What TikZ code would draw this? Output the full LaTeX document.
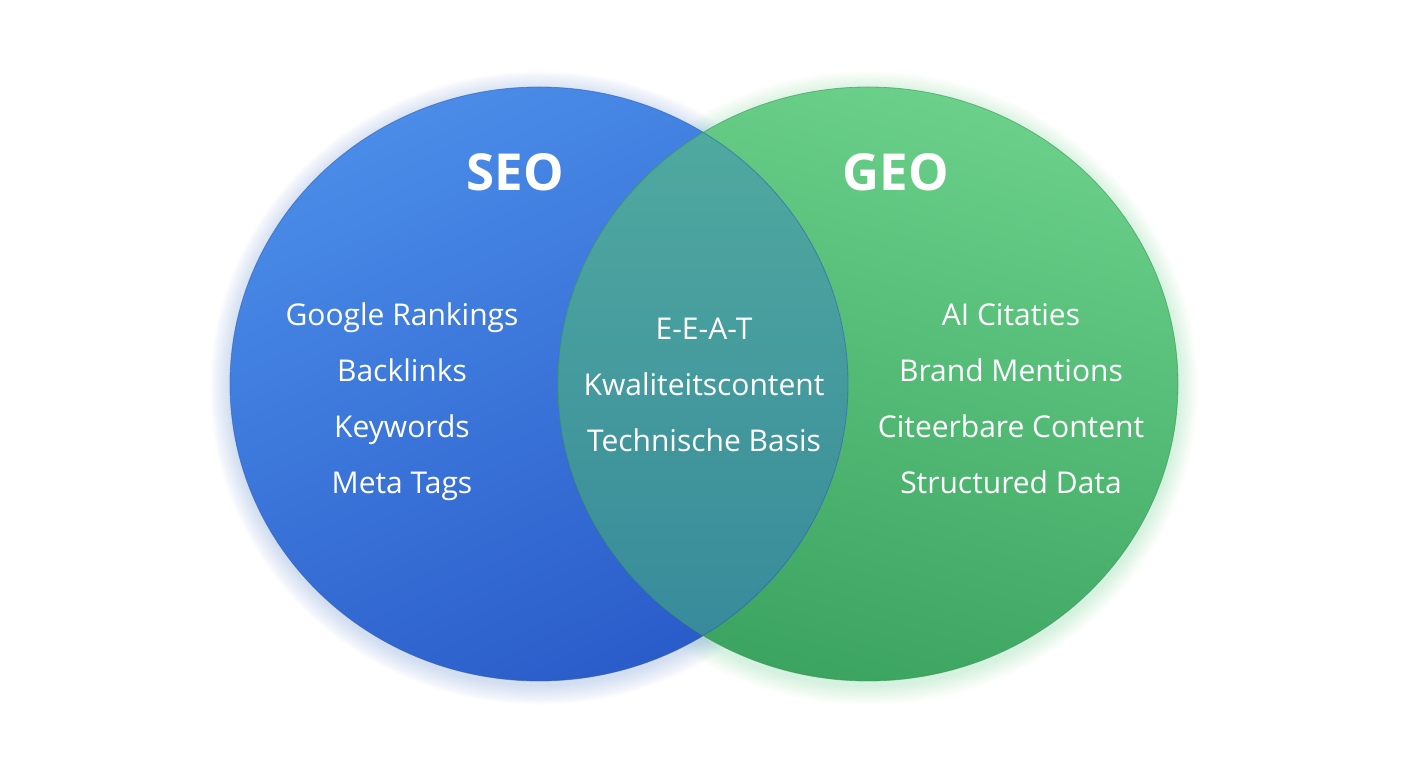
\documentclass[tikz,border=0pt]{standalone}
\usepackage{fontspec}
\setmainfont{Open Sans}
\definecolor{bluetop}{HTML}{4A8CE8}
\definecolor{bluebot}{HTML}{2A5CC9}
\definecolor{greentop}{HTML}{6AD08A}
\definecolor{greenbot}{HTML}{3BA460}
\definecolor{tealtop}{HTML}{52ACA0}
\definecolor{tealbot}{HTML}{36889A}
\definecolor{glowblue}{HTML}{5F8FF0}
\definecolor{glowgreen}{HTML}{6ED08E}
\definecolor{blueline}{HTML}{2F5FB8}
\definecolor{greenline}{HTML}{3A9558}
\tikzset{
  blueshade/.style={top color=bluetop, bottom color=bluebot, shading angle=25},
  greenshade/.style={top color=greentop, bottom color=greenbot, shading angle=-15},
  tealshade/.style={top color=tealtop, bottom color=tealbot},
  title/.style={text=white, font=\bfseries\fontsize{51}{56}\selectfont, inner sep=0pt, anchor=base},
  item/.style={text=white, font=\fontsize{30}{34}\selectfont, inner sep=0pt, anchor=base},
}
\begin{document}
\begin{tikzpicture}[x=1pt,y=1pt]
\useasboundingbox (0,0) rectangle (1408,768);
\fill[white] (0,0) rectangle (1408,768);
% soft glow
\foreach \i in {1,...,14} {
  \fill[glowblue, opacity=0.018] (539,380) ellipse ({309+\i*1.4} and {297+\i*1.4});
  \fill[glowgreen, opacity=0.018] (868,380) ellipse ({310+\i*1.4} and {297+\i*1.4});
}
% circles
\shade[blueshade] (539,384) ellipse (309 and 297);
\shade[greenshade] (868,384) ellipse (310 and 297);
\begin{scope}
  \clip (539,384) ellipse (309 and 297);
  \shade[tealshade] (868,384) ellipse (310 and 297);
\end{scope}
\draw[blueline, line width=0.8pt, opacity=0.6] (539,384) ellipse (309 and 297);
\draw[greenline, line width=0.8pt, opacity=0.6] (868,384) ellipse (310 and 297);
% titles
\node[title] (seo) at (515,577) {SEO};
\node[title] (geo) at (896,577) {GEO};
% left items
\node[item] (l1) at (402,442) {Google Rankings};
\node[item] (l2) at (402,386) {Backlinks};
\node[item] (l3) at (402,330) {Keywords};
\node[item] (l4) at (402,274) {Meta Tags};
% middle items
\node[item] (m1) at (704,428) {E-E-A-T};
\node[item] (m2) at (704,372) {Kwaliteitscontent};
\node[item] (m3) at (704,316) {Technische Basis};
% right items
\node[item] (r1) at (1011,442) {AI Citaties};
\node[item] (r2) at (1011,386) {Brand Mentions};
\node[item] (r3) at (1011,330) {Citeerbare Content};
\node[item] (r4) at (1011,274) {Structured Data};
\end{tikzpicture}
\end{document}
